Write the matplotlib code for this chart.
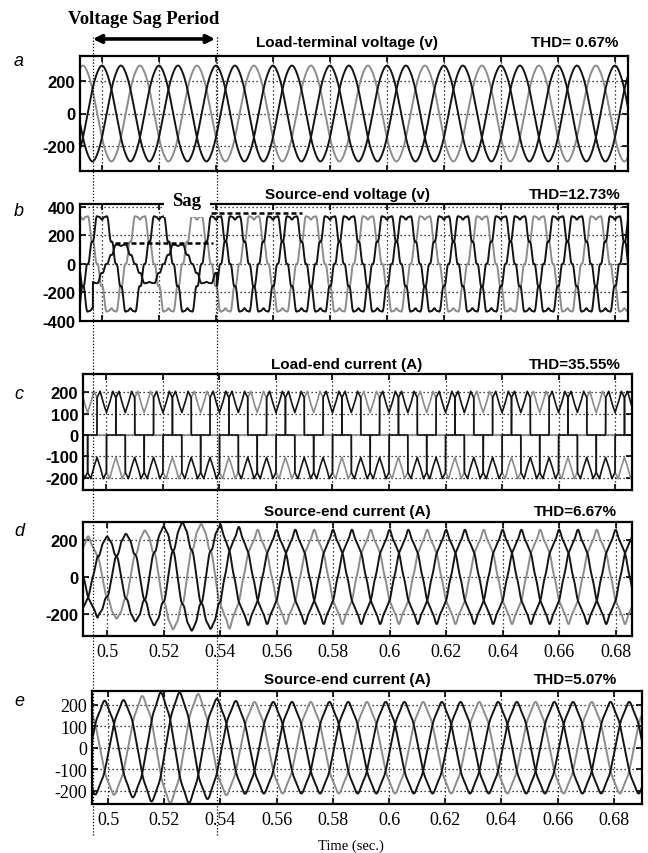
import numpy as np
import matplotlib.pyplot as plt
from matplotlib.lines import Line2D

plt.rcParams['axes.unicode_minus'] = False

# --- data ---
f0 = 50.0                 # Hz
t_ref = 0.5               # phase-a peak reference
sag_on, sag_off = 0.4968, 0.5403
t = np.linspace(0.488, 0.692, 8000)

phase_colors = ['#141414', '#141414', '#8c8c8c']   # phase a, b (black) c (grey)
draw_order = [2, 0, 1]

# (a) load-terminal voltage
a_amp = [295, 295, 295]
a_harm = [1, 5, 7]
a_coef = [1.0, 0.005, 0.004]

# (b) source-end voltage: phase b sagged
b_amp = [345, 345, 345]
b_sag_amp = [345, 140, 345]
b_harm = [1, 5, 7, 11, 13]
b_coef = [1.0, -0.06, -0.05, 0.05, -0.04]
b_sag_level = 147
b_nom_level = 358
b_sag_span = [0.5046, 0.5389]
b_nom_span = [0.5354, 0.5702]

# (c) load-end current, one half cycle (deg from phase peak) of rectifier current
c_ang = [-90, -60.5, -60, -40, -20, 0, 20, 40, 60, 60.5, 90]
c_val = [0, 0, 175, 205, 150, 105, 150, 205, 175, 0, 0]

# (d) source-end current
d_env_t = [0.488, 0.4968, 0.510, 0.527, 0.5403, 0.552, 0.692]
d_env_a = [200, 200, 228, 280, 262, 232, 232]
d_harm = [1, 5, 7, 11]
d_coef = [1.0, 0.05, 0.03, 0.02]
d_sag_coef = [1.0, 0.06, -0.03, 0.025]

# (e) source-end current, second case
e_env_t = [0.488, 0.505, 0.518, 0.530, 0.5403, 0.550, 0.692]
e_env_a = [205, 210, 245, 245, 212, 203, 203]
e_harm = [1, 5, 7]
e_coef = [1.0, 0.03, 0.02]
e_shift = -0.0012

xticks = [0.5, 0.52, 0.54, 0.56, 0.58, 0.6, 0.62, 0.64, 0.66, 0.68]
xtick_labels = ['0.5', '0.52', '0.54', '0.56', '0.58', '0.6', '0.62', '0.64', '0.66', '0.68']

titles = ['Load-terminal voltage (v)', 'Source-end voltage (v)', 'Load-end current (A)',
          'Source-end current (A)', 'Source-end current (A)']
thd = ['THD= 0.67%', 'THD=12.73%', 'THD=35.55%', 'THD=6.67%', 'THD=5.07%']
letters = ['a', 'b', 'c', 'd', 'e']


def wave(tt, harm, coef, k, shift=0.0):
    th = 2 * np.pi * f0 * (tt - t_ref - shift) - 2 * np.pi * k / 3
    return sum(c * np.cos(h * th) for h, c in zip(harm, coef))


def rect_current(tt, k):
    ang = np.degrees(2 * np.pi * f0 * (tt - t_ref)) - 120 * k
    ang = (ang + 90) % 360 - 90
    full_ang = c_ang + [a + 180 for a in c_ang[1:]]
    full_val = c_val + [-v for v in c_val[1:]]
    return np.interp(ang, full_ang, full_val)


W, H = 648, 854
fig = plt.figure(figsize=(W / 100, H / 100), dpi=100)


def ax_at(l, t_, r, b):
    return fig.add_axes([l / W, 1 - b / H, (r - l) / W, (b - t_) / H])


boxes = [(80, 57, 628, 172), (80, 205, 628, 322), (83, 375, 632, 491),
         (83, 523, 632, 637), (92, 692, 642, 805)]
xlims = [(0.4923, 0.6846), (0.4923, 0.6846), (0.4917, 0.6860),
         (0.4915, 0.6858), (0.4943, 0.6900)]
ylims = [(-357, 357), (-400, 420), (-258, 286), (-320, 297), (-262, 264)]
yticks = [[-200, 0, 200], [-400, -200, 0, 200, 400], [-200, -100, 0, 100, 200],
          [-200, 0, 200], [-200, -100, 0, 100, 200]]
title_y = [43, 195, 365, 512, 680]
letter_y = [62, 212, 395, 532, 702]

axes = [ax_at(*bx) for bx in boxes]
in_sag = (t >= sag_on) & (t < sag_off)

for i, ax in enumerate(axes):
    for k in draw_order:
        if i == 0:
            y = a_amp[k] * wave(t, a_harm, a_coef, k)
        elif i == 1:
            amp = np.where(in_sag, b_sag_amp[k], b_amp[k])
            y = amp * wave(t, b_harm, b_coef, k)
        elif i == 2:
            y = rect_current(t, k)
        elif i == 3:
            env = np.interp(t, d_env_t, d_env_a)
            y = env * np.where(in_sag, wave(t, d_harm, d_sag_coef, k), wave(t, d_harm, d_coef, k))
        else:
            env = np.interp(t, e_env_t, e_env_a)
            y = env * wave(t, e_harm, e_coef, k, e_shift)
        ax.plot(t, y, color=phase_colors[k], lw=1.4 if i != 2 else 1.2)

    ax.set_xlim(*xlims[i])
    ax.set_ylim(*ylims[i])
    ax.set_xticks(xticks)
    ax.set_yticks(yticks[i])
    ax.grid(True, color='k', linestyle=(0, (1, 2.2)), lw=0.9)
    ax.tick_params(direction='in', top=True, right=True, length=4, width=1.2)
    for s in ax.spines.values():
        s.set_linewidth(1.6)
    serif = (i == 4)
    ax.set_yticklabels([str(v) for v in yticks[i]],
                       fontfamily='Liberation Serif' if serif else 'Liberation Sans',
                       fontsize=13 if serif else 12, fontweight='normal' if serif else 'bold')
    if i in (3, 4):
        ax.set_xticklabels(xtick_labels, fontfamily='Liberation Serif', fontsize=13)
        ax.tick_params(axis='x', pad=5)
    else:
        ax.set_xticklabels([])

    fig.text(347 / W, 1 - title_y[i] / H, titles[i], ha='center', va='center',
             fontfamily='Liberation Sans', fontweight='bold', fontsize=11)
    fig.text(575 / W, 1 - title_y[i] / H, thd[i], ha='center', va='center',
             fontfamily='Liberation Sans', fontweight='bold', fontsize=11)
    fig.text(19 / W, 1 - letter_y[i] / H, letters[i], ha='center', va='center',
             fontfamily='Liberation Sans', fontstyle='italic', fontsize=13)

# sag reference levels in panel b
axes[1].hlines(b_sag_level, *b_sag_span, colors='k', linestyles=(0, (2, 1.2)), lw=1.8)
axes[1].hlines(b_nom_level, *b_nom_span, colors='k', linestyles=(0, (2, 1.2)), lw=1.8)
fig.text(187 / W, 1 - 201 / H, 'Sag', ha='center', va='center', fontfamily='Liberation Serif',
         fontweight='bold', fontsize=13.5,
         bbox=dict(facecolor='white', edgecolor='none', boxstyle='square,pad=0.45'))

# sag period markers across the whole figure
inv = fig.transFigure.inverted()
for ts in (sag_on, sag_off):
    xf = inv.transform(axes[0].transData.transform((ts, 0)))[0]
    fig.add_artist(Line2D([xf, xf], [1 - 38 / H, 1 - 837 / H], transform=fig.transFigure,
                          color='k', lw=0.9, linestyle=(0, (1, 1.5))))

axes[0].annotate('', xy=(sag_on, 1.148), xytext=(sag_off - 0.0006, 1.148),
                 xycoords=('data', 'axes fraction'), textcoords=('data', 'axes fraction'),
                 arrowprops=dict(arrowstyle='<|-|>', color='k', lw=2.6,
                                 mutation_scale=12, shrinkA=0, shrinkB=0))
fig.text(144 / W, 1 - 19 / H, 'Voltage Sag Period', ha='center', va='center',
         fontfamily='Liberation Serif', fontweight='bold', fontsize=13.5)
fig.text(351 / W, 1 - 846 / H, 'Time (sec.)', ha='center', va='center',
         fontfamily='Liberation Serif', fontsize=10.5)

fig.savefig('out.png', dpi=100)
